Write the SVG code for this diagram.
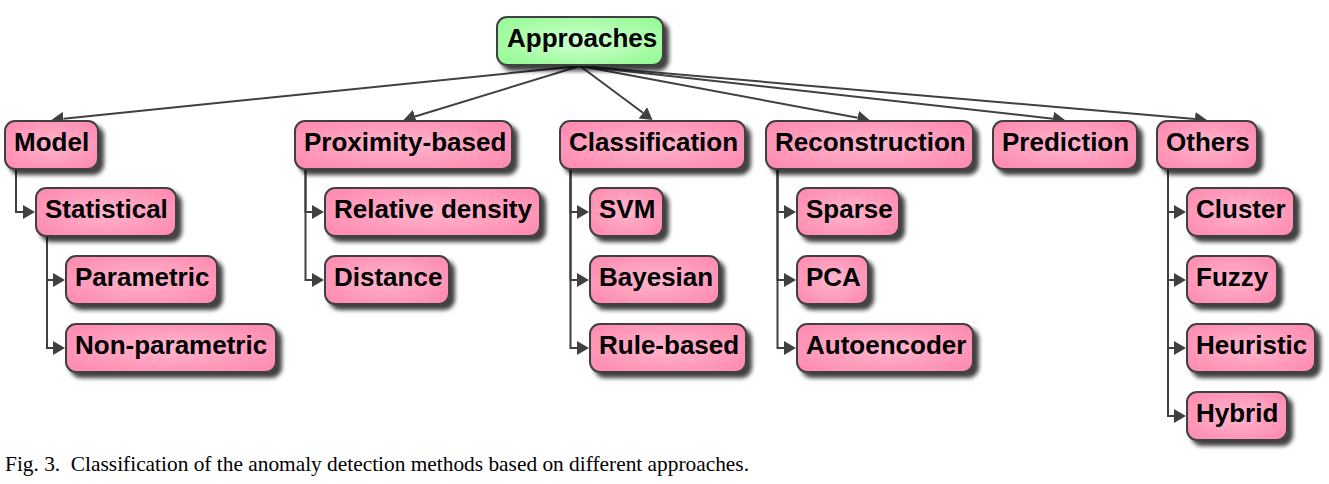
<svg xmlns="http://www.w3.org/2000/svg" width="1329" height="484" viewBox="0 0 1329 484">
<style>
.box{stroke:#404040;stroke-width:2}
.pink{fill:url(#gp)}
.green{fill:url(#gg)}
.lbl{font-family:"Liberation Sans",Arial,sans-serif;font-weight:bold;font-size:26px;fill:#000}
.con{fill:none;stroke:#404040;stroke-width:2;marker-end:url(#ah)}
.cap{font-family:"Liberation Serif","Times New Roman",serif;font-size:21px;fill:#000}
</style>
<defs>
<radialGradient id="gp" cx="50%" cy="50%" r="60%">
<stop offset="0" stop-color="#ffb6cd"/>
<stop offset="1" stop-color="#ff8db2"/>
</radialGradient>
<radialGradient id="gg" cx="50%" cy="50%" r="60%">
<stop offset="0" stop-color="#d2ffd2"/>
<stop offset="1" stop-color="#98fa98"/>
</radialGradient>
<filter id="sh" x="-20%" y="-30%" width="150%" height="180%">
<feDropShadow dx="5" dy="5" stdDeviation="2.2" flood-color="#000" flood-opacity="0.75"/>
</filter>
<marker id="ah" markerUnits="userSpaceOnUse" markerWidth="13" markerHeight="14" refX="0" refY="7" orient="auto">
<path d="M0,0 L12,7 L0,14 z" fill="#404040"/>
</marker>
</defs>

<g id="connectors">
<path class="con" d="M580,66 L63.4,118.8"/>
<path class="con" d="M580,66 L415.0,116.5"/>
<path class="con" d="M580,66 L642.9,112.8"/>
<path class="con" d="M580,66 L857.7,117.8"/>
<path class="con" d="M580,66 L1053.1,118.7"/>
<path class="con" d="M580,66 L1195.0,119.0"/>

<path class="con" d="M16,169 V212 H23"/>
<path class="con" d="M47,236 V280 H53"/>
<path class="con" d="M47,236 V348 H53"/>

<path class="con" d="M305.5,169 V212 H312"/>
<path class="con" d="M305.5,169 V280 H312"/>

<path class="con" d="M570.5,169 V212 H577"/>
<path class="con" d="M570.5,169 V280 H577"/>
<path class="con" d="M570.5,169 V348 H577"/>

<path class="con" d="M777.5,169 V212 H784"/>
<path class="con" d="M777.5,169 V280 H784"/>
<path class="con" d="M777.5,169 V348 H784"/>

<path class="con" d="M1168,169 V212 H1174"/>
<path class="con" d="M1168,169 V280 H1174"/>
<path class="con" d="M1168,169 V348 H1174"/>
<path class="con" d="M1168,169 V416 H1174"/>
</g>

<g id="approaches"><rect class="box green" filter="url(#sh)" x="497" y="17" width="166" height="48" rx="10"/><text class="lbl" x="507" y="47">Approaches</text></g>

<g id="model"><rect class="box pink" filter="url(#sh)" x="5" y="121" width="93" height="48" rx="10"/><text class="lbl" x="14" y="151">Model</text></g>
<g id="proximity"><rect class="box pink" filter="url(#sh)" x="295" y="121" width="217" height="48" rx="10"/><text class="lbl" x="304" y="151">Proximity-based</text></g>
<g id="classification"><rect class="box pink" filter="url(#sh)" x="560" y="121" width="185" height="48" rx="10"/><text class="lbl" x="569" y="151">Classification</text></g>
<g id="reconstruction"><rect class="box pink" filter="url(#sh)" x="766" y="121" width="207" height="48" rx="10"/><text class="lbl" x="775" y="151">Reconstruction</text></g>
<g id="prediction"><rect class="box pink" filter="url(#sh)" x="993" y="121" width="144" height="48" rx="10"/><text class="lbl" x="1002" y="151">Prediction</text></g>
<g id="others"><rect class="box pink" filter="url(#sh)" x="1157" y="121" width="100" height="48" rx="10"/><text class="lbl" x="1166" y="151">Others</text></g>

<g id="statistical"><rect class="box pink" filter="url(#sh)" x="36" y="188" width="140" height="48" rx="10"/><text class="lbl" x="45" y="218">Statistical</text></g>
<g id="relative-density"><rect class="box pink" filter="url(#sh)" x="325" y="188" width="215" height="48" rx="10"/><text class="lbl" x="334" y="218">Relative density</text></g>
<g id="svm"><rect class="box pink" filter="url(#sh)" x="590" y="188" width="73" height="48" rx="10"/><text class="lbl" x="599" y="218">SVM</text></g>
<g id="sparse"><rect class="box pink" filter="url(#sh)" x="797" y="188" width="102" height="48" rx="10"/><text class="lbl" x="806" y="218">Sparse</text></g>
<g id="cluster"><rect class="box pink" filter="url(#sh)" x="1187" y="188" width="107" height="48" rx="10"/><text class="lbl" x="1196" y="218">Cluster</text></g>

<g id="parametric"><rect class="box pink" filter="url(#sh)" x="66" y="256" width="151" height="48" rx="10"/><text class="lbl" x="75" y="286">Parametric</text></g>
<g id="distance"><rect class="box pink" filter="url(#sh)" x="325" y="256" width="124" height="48" rx="10"/><text class="lbl" x="334" y="286">Distance</text></g>
<g id="bayesian"><rect class="box pink" filter="url(#sh)" x="590" y="256" width="129" height="48" rx="10"/><text class="lbl" x="599" y="286">Bayesian</text></g>
<g id="pca"><rect class="box pink" filter="url(#sh)" x="797" y="256" width="71" height="48" rx="10"/><text class="lbl" x="806" y="286">PCA</text></g>
<g id="fuzzy"><rect class="box pink" filter="url(#sh)" x="1187" y="256" width="90" height="48" rx="10"/><text class="lbl" x="1196" y="286">Fuzzy</text></g>

<g id="non-parametric"><rect class="box pink" filter="url(#sh)" x="66" y="324" width="210" height="48" rx="10"/><text class="lbl" x="75" y="354">Non-parametric</text></g>
<g id="rule-based"><rect class="box pink" filter="url(#sh)" x="590" y="324" width="156" height="48" rx="10"/><text class="lbl" x="599" y="354">Rule-based</text></g>
<g id="autoencoder"><rect class="box pink" filter="url(#sh)" x="797" y="324" width="176" height="48" rx="10"/><text class="lbl" x="806" y="354">Autoencoder</text></g>
<g id="heuristic"><rect class="box pink" filter="url(#sh)" x="1187" y="324" width="128" height="48" rx="10"/><text class="lbl" x="1196" y="354">Heuristic</text></g>

<g id="hybrid"><rect class="box pink" filter="url(#sh)" x="1187" y="392" width="100" height="48" rx="10"/><text class="lbl" x="1196" y="422">Hybrid</text></g>

<text class="cap" x="5" y="470.5" xml:space="preserve" textLength="744" lengthAdjust="spacingAndGlyphs">Fig. 3.  Classification of the anomaly detection methods based on different approaches.</text>
</svg>
